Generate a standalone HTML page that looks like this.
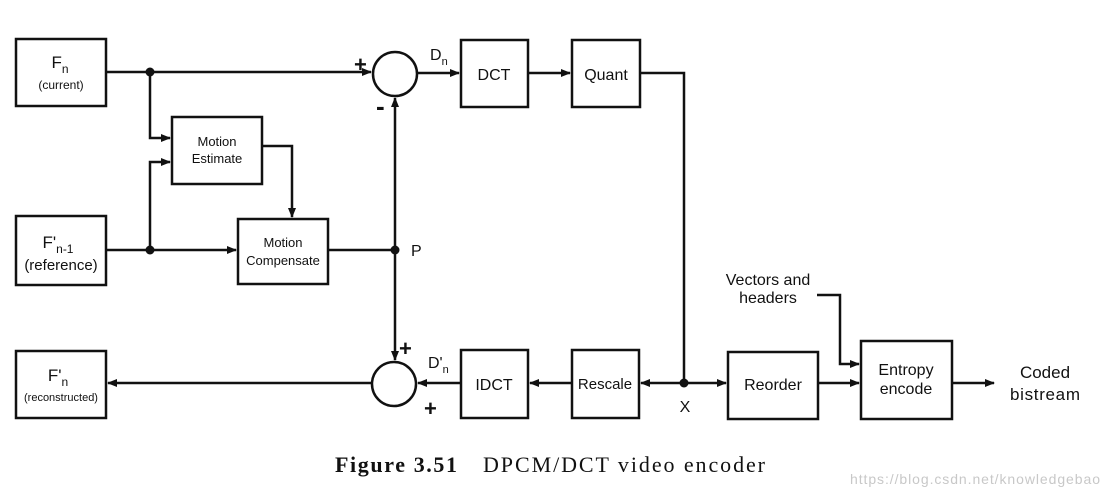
<!DOCTYPE html>
<html><head><meta charset="utf-8"><style>
body{margin:0;background:#fff}
svg text{font-family:"Liberation Sans",sans-serif;fill:#111}
</style></head><body>
<svg width="1110" height="496" viewBox="0 0 1110 496" xmlns="http://www.w3.org/2000/svg">
<defs><marker id="a" markerWidth="10" markerHeight="10" refX="9" refY="5" orient="auto" markerUnits="userSpaceOnUse"><path d="M0,1 L10,5 L0,9 Z" fill="#111"/></marker></defs>
<g fill="none" stroke="#111" stroke-width="2.5">
<rect x="16" y="39" width="90" height="67"/>
<rect x="16" y="216" width="90" height="69"/>
<rect x="16" y="351" width="90" height="67"/>
<rect x="172" y="117" width="90" height="67"/>
<rect x="238" y="219" width="90" height="65"/>
<rect x="461" y="40" width="67" height="67"/>
<rect x="572" y="40" width="68" height="67"/>
<rect x="461" y="350" width="67" height="68"/>
<rect x="572" y="350" width="67" height="68"/>
<rect x="728" y="352" width="90" height="67"/>
<rect x="861" y="341" width="91" height="78"/>
<circle cx="395" cy="74" r="22"/>
<circle cx="394" cy="384" r="22"/>
<path d="M106,72 H371" marker-end="url(#a)"/>
<path d="M150,72 V138 H170" marker-end="url(#a)"/>
<path d="M150,250 V162 H170" marker-end="url(#a)"/>
<path d="M106,250 H236" marker-end="url(#a)"/>
<path d="M262,146 H292 V217" marker-end="url(#a)"/>
<path d="M328,250 H395"/>
<path d="M395,250 V98" marker-end="url(#a)"/>
<path d="M395,250 V360" marker-end="url(#a)"/>
<path d="M417,73 H459" marker-end="url(#a)"/>
<path d="M528,73 H570" marker-end="url(#a)"/>
<path d="M640,73 H684 V383"/>
<path d="M684,383 H641" marker-end="url(#a)"/>
<path d="M684,383 H726" marker-end="url(#a)"/>
<path d="M572,383 H530" marker-end="url(#a)"/>
<path d="M461,383 H418" marker-end="url(#a)"/>
<path d="M372,383 H108" marker-end="url(#a)"/>
<path d="M818,383 H859" marker-end="url(#a)"/>
<path d="M817,295 H840 V364 H859" marker-end="url(#a)"/>
<path d="M952,383 H994" marker-end="url(#a)"/>
</g>
<g fill="#111"><circle cx="150" cy="72" r="4.5"/><circle cx="150" cy="250" r="4.5"/><circle cx="395" cy="250" r="4.5"/><circle cx="684" cy="383" r="4.5"/></g>
<g text-anchor="middle">
<text x="60" y="68" font-size="17">F<tspan font-size="12" dy="5">n</tspan></text>
<text x="61" y="89" font-size="12">(current)</text>
<text x="58" y="248" font-size="17">F'<tspan font-size="12" dy="5">n-1</tspan></text>
<text x="61" y="270" font-size="15">(reference)</text>
<text x="58" y="381" font-size="17">F'<tspan font-size="12" dy="5">n</tspan></text>
<text x="61" y="401" font-size="11">(reconstructed)</text>
<text x="217" y="146" font-size="13">Motion</text>
<text x="217" y="163" font-size="13">Estimate</text>
<text x="283" y="247" font-size="13">Motion</text>
<text x="283" y="265" font-size="13">Compensate</text>
<text x="494" y="80" font-size="16">DCT</text>
<text x="606" y="80" font-size="16">Quant</text>
<text x="494" y="390" font-size="16">IDCT</text>
<text x="605" y="389" font-size="15">Rescale</text>
<text x="773" y="390" font-size="16">Reorder</text>
<text x="906" y="375" font-size="16">Entropy</text>
<text x="906" y="394" font-size="16">encode</text>
<text x="1045" y="378" font-size="17">Coded</text>
<text x="1045" y="400" font-size="17" textLength="70">bistream</text>
<text x="768" y="285" font-size="16">Vectors and</text>
<text x="768" y="303" font-size="16">headers</text>
<text x="685" y="412" font-size="16">X</text>
</g>
<text x="411" y="256" font-size="16">P</text>
<text x="430" y="60" font-size="16">D<tspan font-size="11" dy="5">n</tspan></text>
<text x="428" y="368" font-size="16">D'<tspan font-size="11" dy="5">n</tspan></text>
<text x="354" y="72" font-size="22" font-weight="bold">+</text>
<text x="376" y="115" font-size="26" font-weight="bold">-</text>
<text x="399" y="356" font-size="22" font-weight="bold">+</text>
<text x="424" y="416" font-size="22" font-weight="bold">+</text>
<text x="335" y="472" font-size="22" font-weight="bold" textLength="122" style="font-family:'Liberation Serif',serif">Figure 3.51</text>
<text x="483" y="472" font-size="22" textLength="282" style="font-family:'Liberation Serif',serif">DPCM/DCT video encoder</text>
<text x="850" y="484" font-size="14" textLength="250" style="fill:#c8c8c8">https://blog.csdn.net/knowledgebao</text>
</svg>
</body></html>
